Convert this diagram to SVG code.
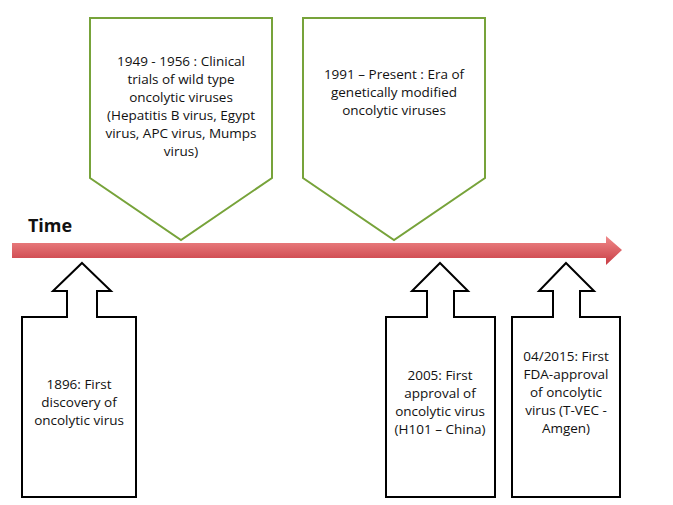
<svg xmlns="http://www.w3.org/2000/svg" width="673" height="505" viewBox="0 0 673 505">
<defs>
<linearGradient id="rg" x1="0" y1="0" x2="0" y2="1"><stop offset="0" stop-color="#f08a8a"/><stop offset="1" stop-color="#c83c44"/></linearGradient>
<style>
.g{fill:#fff;stroke:#77a33a;stroke-width:2}
.b{fill:#fff;stroke:#000;stroke-width:2}
text{font-family:"Open Sans","Liberation Sans",sans-serif;font-size:13.5px;fill:#111;text-anchor:middle}
</style>
</defs>
<rect width="673" height="505" fill="#fff"/>
<g id="timeline">
<path d="M12,243 H606 V236 L622,250 L606,265 V258 H12 Z" fill="url(#rg)"/>
<text x="50" y="232" style="font-size:18px;font-weight:bold;text-anchor:middle">Time</text>
</g>
<g id="n1949">
<path class="g" d="M90,18 H272 V178 L181,240 L90,178 Z"/>
<text x="181" y="66">1949 - 1956 : Clinical</text>
<text x="181" y="84">trials of wild type</text>
<text x="181" y="102">oncolytic viruses</text>
<text x="181" y="120">(Hepatitis B virus, Egypt</text>
<text x="181" y="138">virus, APC virus, Mumps</text>
<text x="181" y="156">virus)</text>
</g>
<g id="n1991">
<path class="g" d="M303,18 H485 V178 L394,240 L303,178 Z"/>
<text x="394" y="79">1991 – Present : Era of</text>
<text x="394" y="97">genetically modified</text>
<text x="394" y="115">oncolytic viruses</text>
</g>
<g id="n1896">
<path class="b" d="M82,263 L111,291 H97 V317 H136 V497 H22 V317 H67 V291 H53 Z"/>
<text x="79" y="389">1896: First</text>
<text x="79" y="407">discovery of</text>
<text x="79" y="425">oncolytic virus</text>
</g>
<g id="n2005">
<path class="b" d="M440,263 L468,291 H454 V317 H495 V497 H386 V317 H427 V291 H412 Z"/>
<text x="440" y="380">2005: First</text>
<text x="440" y="398">approval of</text>
<text x="440" y="416">oncolytic virus</text>
<text x="440" y="434">(H101 – China)</text>
</g>
<g id="n2015">
<path class="b" d="M566,263 L594,291 H580 V317 H620 V497 H512 V317 H553 V291 H539 Z"/>
<text x="566" y="361">04/2015: First</text>
<text x="566" y="379">FDA-approval</text>
<text x="566" y="397">of oncolytic</text>
<text x="566" y="415">virus (T-VEC -</text>
<text x="566" y="433">Amgen)</text>
</g>
<g id="connectors"/>
</svg>
